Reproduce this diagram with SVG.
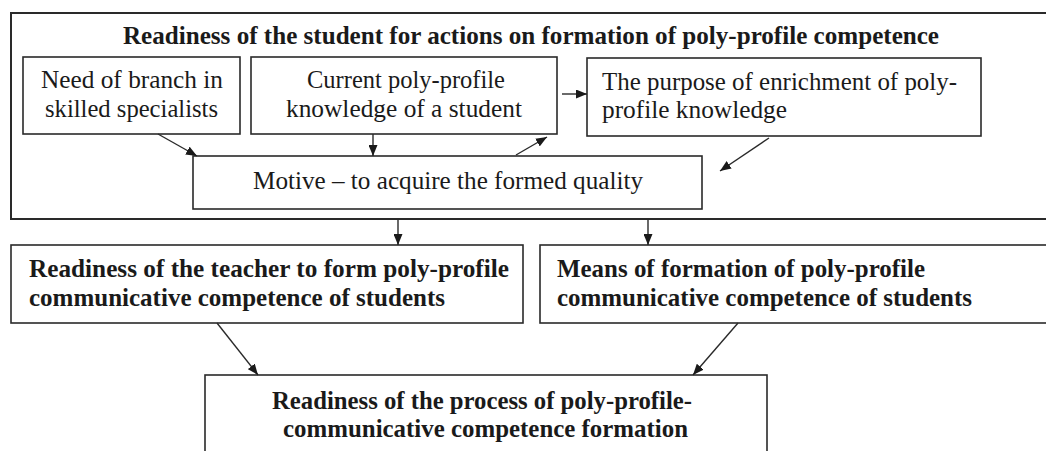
<svg xmlns="http://www.w3.org/2000/svg" width="1046" height="451" viewBox="0 0 1046 451">
  <style>
    .box { fill: #ffffff; stroke: #2a2a2a; stroke-width: 1.6; }
    .outer { fill: #ffffff; stroke: #2a2a2a; stroke-width: 2; }
    .reg { font-family: "Liberation Serif", "Times New Roman", Times, serif; font-size: 26px; fill: #1a1a1a; }
    .bold { font-family: "Liberation Serif", "Times New Roman", Times, serif; font-size: 25px; font-weight: bold; fill: #1a1a1a; }
    .conn { stroke: #2a2a2a; stroke-width: 1.4; fill: none; marker-end: url(#ah); }
  </style>
  <defs>
    <marker id="ah" markerUnits="userSpaceOnUse" markerWidth="11" markerHeight="9" refX="11" refY="4.5" orient="auto">
      <path d="M0,0 L11,4.5 L0,9 z" fill="#1a1a1a"/>
    </marker>
  </defs>
  <rect width="1046" height="451" fill="#ffffff"/>

  <g id="student-readiness">
    <rect class="outer" x="11" y="13" width="1045" height="206"/>
    <text class="bold" x="123" y="44" textLength="816" lengthAdjust="spacingAndGlyphs">Readiness of the student for actions on formation of poly-profile competence</text>
  </g>

  <g id="need-of-branch">
    <rect class="box" x="23" y="57" width="217" height="77"/>
    <text class="reg" x="41" y="88" textLength="182" lengthAdjust="spacingAndGlyphs">Need of branch in</text>
    <text class="reg" x="45" y="117" textLength="173" lengthAdjust="spacingAndGlyphs">skilled specialists</text>
  </g>

  <g id="current-knowledge">
    <rect class="box" x="251" y="57" width="306" height="77"/>
    <text class="reg" x="307" y="88" textLength="198" lengthAdjust="spacingAndGlyphs">Current poly-profile</text>
    <text class="reg" x="286" y="117" textLength="236" lengthAdjust="spacingAndGlyphs">knowledge of a student</text>
  </g>

  <g id="purpose-enrichment">
    <rect class="box" x="587" y="58" width="394" height="78"/>
    <text class="reg" x="602" y="90" textLength="355" lengthAdjust="spacingAndGlyphs">The purpose of enrichment of poly-</text>
    <text class="reg" x="602" y="118" textLength="185" lengthAdjust="spacingAndGlyphs">profile knowledge</text>
  </g>

  <g id="motive">
    <rect class="box" x="193" y="156" width="509" height="53"/>
    <text class="reg" x="253" y="189" textLength="390" lengthAdjust="spacingAndGlyphs">Motive – to acquire the formed quality</text>
  </g>

  <g id="teacher-readiness">
    <rect class="box" x="11" y="245" width="512" height="78"/>
    <text class="bold" x="29" y="277" textLength="480" lengthAdjust="spacingAndGlyphs">Readiness of the teacher to form poly-profile</text>
    <text class="bold" x="29" y="306" textLength="416" lengthAdjust="spacingAndGlyphs">communicative  competence of students</text>
  </g>

  <g id="means-formation">
    <rect class="box" x="540" y="245" width="520" height="78"/>
    <text class="bold" x="557" y="277" textLength="368" lengthAdjust="spacingAndGlyphs">Means of formation of poly-profile</text>
    <text class="bold" x="557" y="306" textLength="415" lengthAdjust="spacingAndGlyphs">communicative  competence of students</text>
  </g>

  <g id="process-readiness">
    <rect class="box" x="205" y="375" width="562" height="90"/>
    <text class="bold" x="272" y="409" textLength="420" lengthAdjust="spacingAndGlyphs">Readiness of the process of poly-profile-</text>
    <text class="bold" x="283" y="437" textLength="405" lengthAdjust="spacingAndGlyphs">communicative  competence formation</text>
  </g>

  <g id="connectors">
    <line class="conn" x1="158" y1="134" x2="197" y2="156"/>
    <line class="conn" x1="373" y1="134" x2="373" y2="156"/>
    <line class="conn" x1="516" y1="155" x2="547" y2="137"/>
    <line class="conn" x1="562" y1="94" x2="587" y2="94"/>
    <line class="conn" x1="769" y1="138" x2="720" y2="171"/>
    <line class="conn" x1="398" y1="219" x2="398" y2="245"/>
    <line class="conn" x1="648" y1="219" x2="648" y2="245"/>
    <line class="conn" x1="217" y1="323" x2="258" y2="375"/>
    <line class="conn" x1="738" y1="323" x2="693" y2="375"/>
  </g>
</svg>
